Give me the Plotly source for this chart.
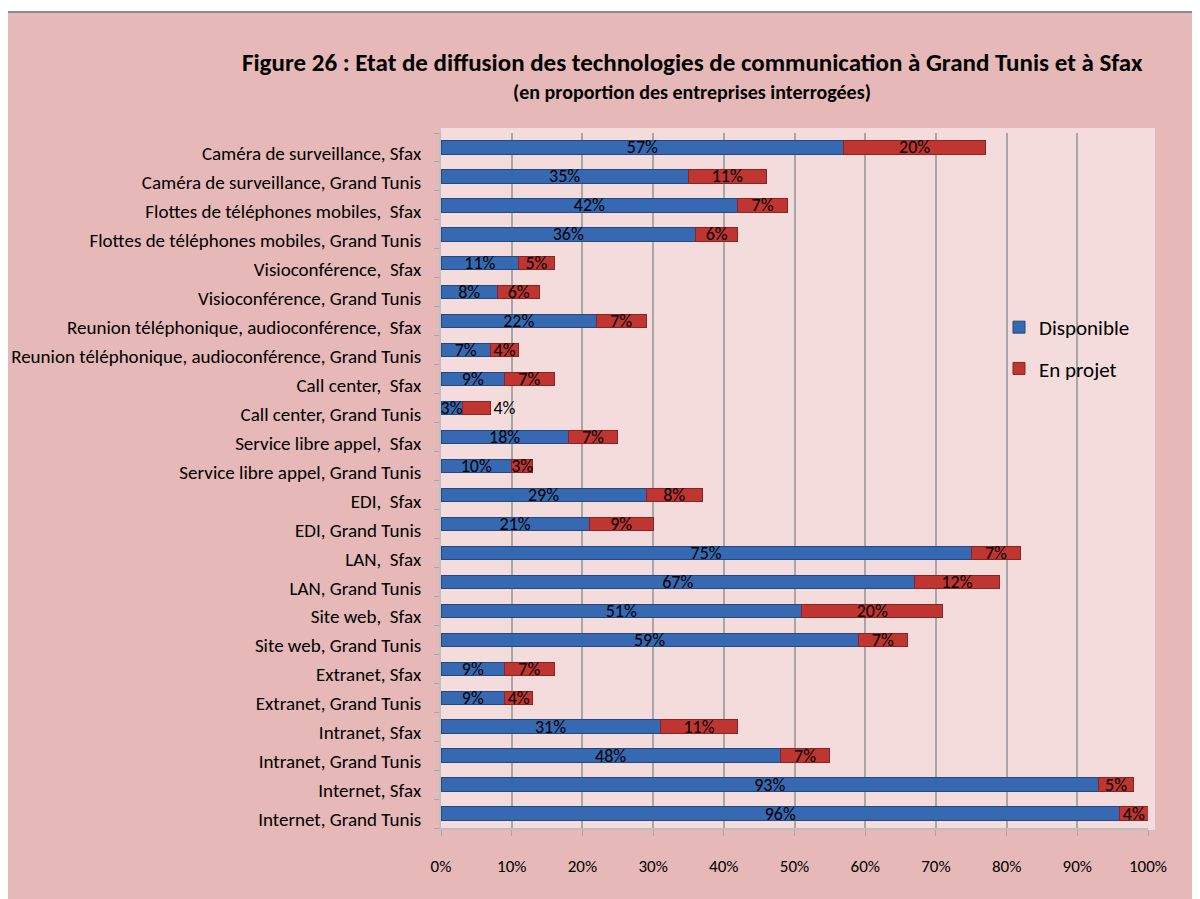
import plotly.graph_objects as go

categories = [
    "Internet, Grand Tunis",
    "Internet, Sfax",
    "Intranet, Grand Tunis",
    "Intranet, Sfax",
    "Extranet, Grand Tunis",
    "Extranet, Sfax",
    "Site web, Grand Tunis",
    "Site web,  Sfax",
    "LAN, Grand Tunis",
    "LAN,  Sfax",
    "EDI, Grand Tunis",
    "EDI,  Sfax",
    "Service libre appel, Grand Tunis",
    "Service libre appel,  Sfax",
    "Call center, Grand Tunis",
    "Call center,  Sfax",
    "Reunion téléphonique, audioconférence, Grand Tunis",
    "Reunion téléphonique, audioconférence,  Sfax",
    "Visioconférence, Grand Tunis",
    "Visioconférence,  Sfax",
    "Flottes de téléphones mobiles, Grand Tunis",
    "Flottes de téléphones mobiles,  Sfax",
    "Caméra de surveillance, Grand Tunis",
    "Caméra de surveillance, Sfax",
]
disponible = [96, 93, 48, 31, 9, 9, 59, 51, 67, 75, 21, 29, 10, 18, 3, 9, 7, 22, 8, 11, 36, 42, 35, 57]
en_projet = [4, 5, 7, 11, 4, 7, 7, 20, 12, 7, 9, 8, 3, 7, 4, 7, 4, 7, 6, 5, 6, 7, 11, 20]
x_ticks = [0, 10, 20, 30, 40, 50, 60, 70, 80, 90, 100]

FONT = "Carlito, Lato, sans-serif"
OFF = 8  # page body margin

fig = go.Figure()
fig.add_trace(go.Bar(
    y=categories, x=disponible, orientation="h", name="Disponible",
    marker=dict(color="#3669B1", line=dict(color="#24497E", width=1)),
    text=[f"{v}%" for v in disponible], textposition="inside",
    insidetextanchor="middle", textfont=dict(color="black", size=18, family=FONT),
    width=0.46, legendgroup="a", cliponaxis=False,
))
fig.add_trace(go.Bar(
    y=categories, x=en_projet, orientation="h", name="En projet",
    marker=dict(color="#BE3532", line=dict(color="#8A2421", width=1)),
    text=[f"{v}%" for v in en_projet],
    textposition=["outside" if c == "Call center, Grand Tunis" else "inside" for c in categories],
    insidetextanchor="middle", textfont=dict(color="black", size=18, family=FONT),
    width=0.46, legendgroup="b", cliponaxis=False,
))

# target screen pixels
SX0, SX1, SY0, SY1 = 441, 1148, 133, 828
L = SX0 - OFF
R = 1200 - (SX1 - OFF)
T = SY0 - OFF
B = 899 - (SY1 - OFF)
W = SX1 - SX0
H = SY1 - SY0

def px_x(p):
    return (p - SX0) / W

def px_y(p):
    return (SY1 - p) / H

fig.update_layout(
    width=1200, height=899,
    barmode="stack",
    margin=dict(l=L, r=R, t=T, b=B, autoexpand=False),
    paper_bgcolor="white",
    plot_bgcolor="rgba(0,0,0,0)",
    font=dict(family=FONT, size=18, color="black"),
    uniformtext=dict(minsize=18, mode="show"),
    showlegend=True,
    legend=dict(
        x=px_x(999), y=px_y(307), xanchor="left", yanchor="top",
        bgcolor="rgba(0,0,0,0)", font=dict(size=21, family=FONT),
        tracegroupgap=11, itemwidth=30,
    ),
    xaxis=dict(
        range=[0, 100], tickvals=x_ticks, ticktext=[f"{v}%" for v in x_ticks],
        showgrid=True, gridcolor="#A6A6A6", gridwidth=2,
        ticks="outside", ticklen=6, tickcolor="#A6A6A6",
        showline=True, linecolor="#BFBFBF", linewidth=2,
        zeroline=False, tickfont=dict(size=17), fixedrange=True,
        ticklabelstandoff=16, automargin=False,
    ),
    yaxis=dict(
        categoryorder="array", categoryarray=categories,
        range=[-0.5, len(categories) - 0.5],
        ticks="outside", tickson="boundaries", ticklen=5, tickcolor="#A6A6A6",
        showline=True, linecolor="#BFBFBF", linewidth=2,
        showgrid=False, tickfont=dict(size=19), ticklabelshift=6,
        ticklabelstandoff=14, automargin=False,
    ),
    shapes=[
        dict(type="rect", xref="paper", yref="paper",
             x0=px_x(7), x1=px_x(1215), y0=px_y(915), y1=px_y(12),
             fillcolor="#E6B8B7", line=dict(color="#8C8C8C", width=2), layer="below"),
        dict(type="rect", xref="paper", yref="paper",
             x0=px_x(441), x1=px_x(1155), y0=px_y(830), y1=px_y(128),
             fillcolor="#F4DCDC", line=dict(width=0), layer="below"),
    ],
    annotations=[
        dict(text="<b>Figure 26 : Etat de diffusion des technologies de communication à Grand Tunis et à Sfax</b>",
             xref="paper", yref="paper", x=px_x(692), y=px_y(62), xanchor="center", yanchor="middle",
             showarrow=False, font=dict(size=25, family=FONT)),
        dict(text="<b>(en proportion des entreprises interrogées)</b>",
             xref="paper", yref="paper", x=px_x(692), y=px_y(92), xanchor="center", yanchor="middle",
             showarrow=False, font=dict(size=20, family=FONT)),
    ],
)

fig.write_html("out.html")
